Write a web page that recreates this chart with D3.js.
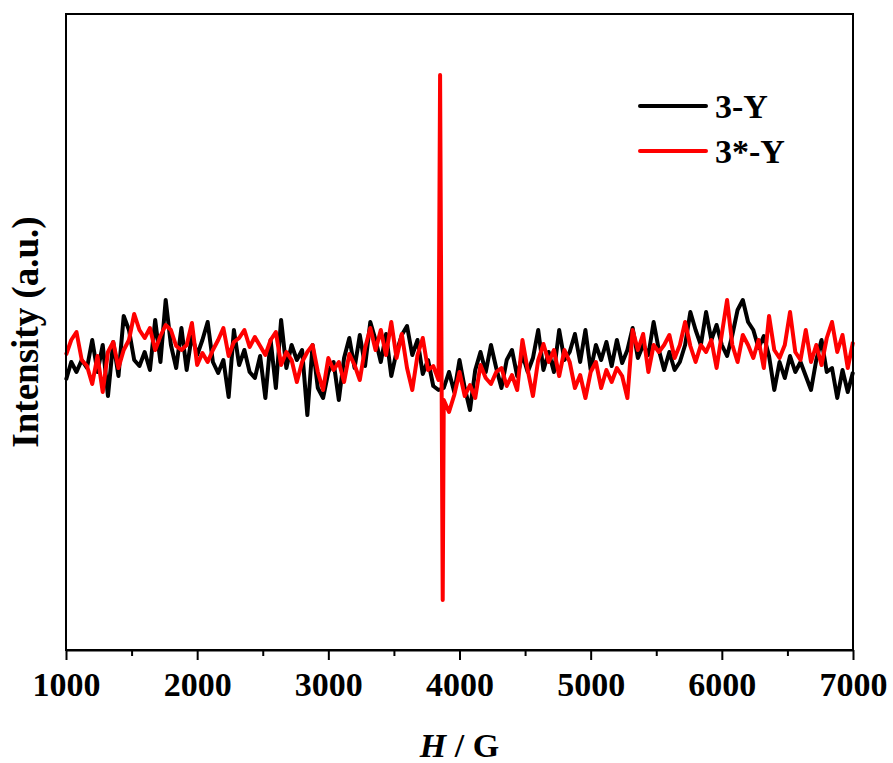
<!DOCTYPE html>
<html lang="en">
<head>
<meta charset="utf-8">
<title>EPR spectra</title>
<script src="https://cdn.jsdelivr.net/npm/d3@7/dist/d3.min.js"></script>
<style>
    body { margin: 0; background: #fff; }
    text { font-family: "Liberation Serif", "Times New Roman", serif; font-weight: bold; }
</style>
</head>
<body>
<div id="chart"></div>
<script>
// field sweep (G), one point every 40 G
const field = d3.range(1000, 7001, 40);

// 3-Y, intensity (a.u.)
const black3Y = [270,288,278,290,282,310,278,305,254,308,274,334,320,290,284,298,280,330,288,350,
    305,282,322,280,315,295,310,328,288,277,290,253,320,285,300,278,272,294,
    252,310,262,330,282,305,290,300,235,305,262,252,278,288,250,292,312,282,315,284,328,310,
    288,316,274,298,315,324,295,310,276,290,264,260,262,278,258,
    290,262,240,280,298,278,305,282,262,290,300,274,295,278,292,320,280,298,278,320,
    290,298,316,288,320,280,305,290,308,284,310,287,300,322,292,305,295,328,
    300,280,298,280,288,305,338,320,305,338,310,325,305,294,315,340,350,328,320,302,
    314,294,260,288,272,294,278,288,274,260,290,310,278,282,252,280,258,278];

// 3*-Y, intensity (a.u.)
const red3sY = [295,310,318,290,284,266,294,258,298,308,282,300,310,336,320,312,322,300,314,325,
    320,304,300,305,327,285,297,288,300,310,322,294,308,312,320,303,313,304,
    295,310,318,285,298,290,268,288,298,305,278,260,292,280,288,268,296,285,270,302,
    322,300,320,295,328,292,316,282,260,295,312,280,284,270,250,238,255,
    278,254,265,252,285,272,266,278,282,264,275,260,310,280,254,290,306,288,300,274,
    300,288,262,275,252,278,288,262,280,268,282,274,252,320,300,316,278,305,
    298,305,315,292,305,328,304,288,305,298,310,282,316,350,305,288,315,305,292,310,
    282,334,300,292,305,338,298,290,320,288,305,285,312,328,298,315,282,308];

// the narrow signal of 3*-Y
const spikeField = [3852, 3872];
const spikeRed = [575, 50];

const xTicks = [1000, 2000, 3000, 4000, 5000, 6000, 7000];
const xMinorTicks = [1500, 2500, 3500, 4500, 5500, 6500];
const seriesNames = ["3-Y", "3*-Y"];
const seriesColors = ["#000000", "#ff0000"];

const margin = {top: 14, right: 40, bottom: 113, left: 66},
    width = 893 - margin.left - margin.right,
    height = 763 - margin.top - margin.bottom;

const svg = d3.select("#chart").append("svg")
    .attr("width", 893)
    .attr("height", 763)
    .append("g")
    .attr("transform", "translate(" + margin.left + "," + margin.top + ")");

const x = d3.scaleLinear().domain([1000, 7000]).range([0, width]);
const y = d3.scaleLinear().domain([0, 636]).range([height, 0]);

const blackData = field.map((h, i) => ({h: h, v: black3Y[i]}));
const redData = field.map((h, i) => ({h: h, v: red3sY[i]}))
    .concat(spikeField.map((h, i) => ({h: h, v: spikeRed[i]})))
    .sort((a, b) => a.h - b.h);

const line = d3.line()
    .x(d => x(d.h))
    .y(d => y(d.v));

svg.append("path")
    .datum(blackData)
    .attr("fill", "none")
    .attr("stroke", seriesColors[0])
    .attr("stroke-width", 4)
    .attr("stroke-linejoin", "round")
    .attr("d", line);

svg.append("path")
    .datum(redData)
    .attr("fill", "none")
    .attr("stroke", seriesColors[1])
    .attr("stroke-width", 4)
    .attr("stroke-linejoin", "round")
    .attr("d", line);

// frame
svg.append("rect")
    .attr("width", width)
    .attr("height", height)
    .attr("fill", "none")
    .attr("stroke", "#000")
    .attr("stroke-width", 2);

// bottom axis, major + minor ticks
const xAxis = svg.append("g")
    .attr("transform", "translate(0," + height + ")")
    .call(d3.axisBottom(x).tickValues(xTicks).tickFormat(d3.format("d"))
        .tickSize(10).tickSizeOuter(0).tickPadding(12));
xAxis.select(".domain").attr("stroke-width", 2);
xAxis.selectAll(".tick line").attr("stroke-width", 2);
xAxis.selectAll("text")
    .style("font-size", "34px")
    .attr("fill", "#000");

const xMinor = svg.append("g")
    .attr("transform", "translate(0," + height + ")")
    .call(d3.axisBottom(x).tickValues(xMinorTicks).tickSize(6).tickSizeOuter(0).tickFormat(""));
xMinor.select(".domain").remove();
xMinor.selectAll(".tick line").attr("stroke-width", 2);

// axis titles
const xTitle = svg.append("text")
    .attr("x", width / 2)
    .attr("y", height + 107)
    .attr("text-anchor", "middle")
    .style("font-size", "34px");
xTitle.append("tspan").style("font-style", "italic").text("H");
xTitle.append("tspan").text(" / G");

svg.append("text")
    .attr("transform", "rotate(-90)")
    .attr("x", -height / 2)
    .attr("y", -28)
    .attr("text-anchor", "middle")
    .style("font-size", "37px")
    .text("Intensity (a.u.)");

// legend
const legend = svg.append("g")
    .attr("transform", "translate(572,92)");
seriesNames.forEach((name, i) => {
    const g = legend.append("g").attr("transform", "translate(0," + (i * 45) + ")");
    g.append("line")
        .attr("x1", 2).attr("x2", 68)
        .attr("stroke", seriesColors[i])
        .attr("stroke-width", 4)
        .attr("stroke-linecap", "round");
    g.append("text")
        .attr("x", 77)
        .attr("y", 12)
        .style("font-size", "34px")
        .text(name);
});
</script>
</body>
</html>
